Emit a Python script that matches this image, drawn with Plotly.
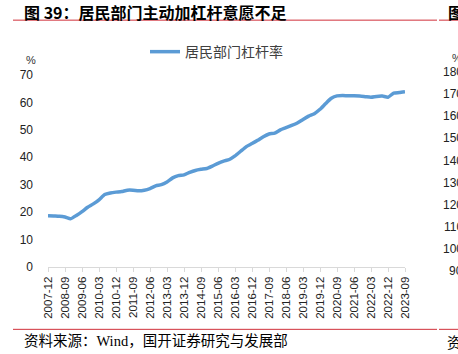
import plotly.graph_objects as go

# Quarterly categories 2007-12 .. 2023-09
quarters = []
for yr in range(2007, 2024):
    for m in ("03", "06", "09", "12"):
        lab = f"{yr}-{m}"
        if "2007-12" <= lab <= "2023-09":
            quarters.append(lab)

series_name = "居民部门杠杆率"
leverage = [18.7, 18.6, 18.5, 18.2, 17.6, 18.8, 20.2, 21.8, 23.0, 24.5,
            26.4, 27.0, 27.3, 27.5, 28.0, 28.0, 27.8, 28.0, 28.6, 29.6,
            30.0, 31.0, 32.5, 33.3, 33.6, 34.5, 35.2, 35.6, 35.9, 36.8,
            37.8, 38.6, 39.2, 40.5, 42.2, 43.9, 45.0, 46.2, 47.5, 48.5,
            48.8, 50.0, 50.8, 51.6, 52.5, 53.8, 55.0, 55.9, 57.5, 59.6,
            61.5, 62.4, 62.5, 62.4, 62.4, 62.3, 62.1, 61.9, 62.2, 62.3,
            61.9, 63.4, 63.6, 63.9]
tick_labels = quarters[::3]
y_ticks = [0, 10, 20, 30, 40, 50, 60, 70]
right_ticks = [180, 170, 160, 150, 140, 130, 120, 110, 100, 90]

title_text = "<b>图 39：居民部门主动加杠杆意愿不足</b>"
source_text = "资料来源：Wind，国开证券研究与发展部"

W, H = 458, 354
L, R, T, B = 48, 405, 75, 267.5


def px(x):
    return (x - L) / (R - L)


def py(y):
    return (B - y) / (B - T)


fig = go.Figure()
fig.add_trace(go.Scatter(
    x=quarters, y=leverage, mode="lines", name=series_name,
    line=dict(color="#5b9bd5", width=3.5, shape="spline", smoothing=0.5),
))

red = "#d0303a"
shapes = []
for yline in (20, 330):
    shapes.append(dict(type="line", xref="paper", yref="paper",
                       x0=px(13), x1=px(437), y0=py(yline), y1=py(yline),
                       line=dict(color=red, width=1)))
    shapes.append(dict(type="line", xref="paper", yref="paper",
                       x0=px(439), x1=px(470), y0=py(yline), y1=py(yline),
                       line=dict(color=red, width=1)))

annotations = [
    dict(text=title_text, x=px(22), y=py(12), xref="paper", yref="paper",
         xanchor="left", yanchor="middle", showarrow=False,
         font=dict(family="Noto Sans CJK SC", size=16, color="#000000")),
    dict(text=source_text, x=px(22), y=py(342), xref="paper", yref="paper",
         xanchor="left", yanchor="middle", showarrow=False,
         font=dict(family="Liberation Serif, Noto Sans CJK SC", size=14.5, color="#000000")),
    dict(text="%", x=px(38), y=py(60), xref="paper", yref="paper",
         xanchor="right", yanchor="middle", showarrow=False,
         font=dict(family="Liberation Sans", size=11, color="#333333")),
    # neighbouring chart (cut off at right edge, as in the reference)
    dict(text="<b>图</b>", x=px(446), y=py(12), xref="paper", yref="paper",
         xanchor="left", yanchor="middle", showarrow=False,
         font=dict(family="Noto Sans CJK SC", size=16, color="#000000")),
    dict(text="资", x=px(445), y=py(342), xref="paper", yref="paper",
         xanchor="left", yanchor="middle", showarrow=False,
         font=dict(family="Noto Sans CJK SC", size=14.5, color="#000000")),
    dict(text="%", x=px(464), y=py(58), xref="paper", yref="paper",
         xanchor="right", yanchor="middle", showarrow=False,
         font=dict(family="Liberation Sans", size=11, color="#333333")),
]
for i, v in enumerate(right_ticks):
    annotations.append(dict(text=str(v), x=px(465), y=py(72 + i * 22.2),
                            xref="paper", yref="paper", xanchor="right",
                            yanchor="middle", showarrow=False,
                            font=dict(family="Liberation Sans", size=12, color="#222222")))

fig.update_layout(
    width=W, height=H,
    margin=dict(l=L, r=W - R, t=T, b=H - B, pad=0),
    paper_bgcolor="white", plot_bgcolor="white",
    showlegend=True,
    legend=dict(orientation="h", x=px(145), y=py(52), xanchor="left", yanchor="middle",
                font=dict(family="Noto Sans CJK SC", size=14, color="#404040"),
                bgcolor="rgba(0,0,0,0)"),
    shapes=shapes,
    annotations=annotations,
    xaxis=dict(type="category", range=[0, len(quarters) - 1],
               tickmode="array", tickvals=tick_labels, ticktext=tick_labels,
               tickangle=-90, showgrid=False, showline=True,
               linecolor="#d9d9d9", linewidth=1,
               ticks="outside", ticklen=4, tickcolor="#d9d9d9",
               tickfont=dict(family="Liberation Sans", size=11.5, color="#222222")),
    yaxis=dict(range=[0, 70], tickvals=y_ticks, showgrid=False, showline=False,
               zeroline=False, ticks="", ticklabelstandoff=14,
               tickfont=dict(family="Liberation Sans", size=12, color="#222222")),
)

fig.write_html("out.html")
